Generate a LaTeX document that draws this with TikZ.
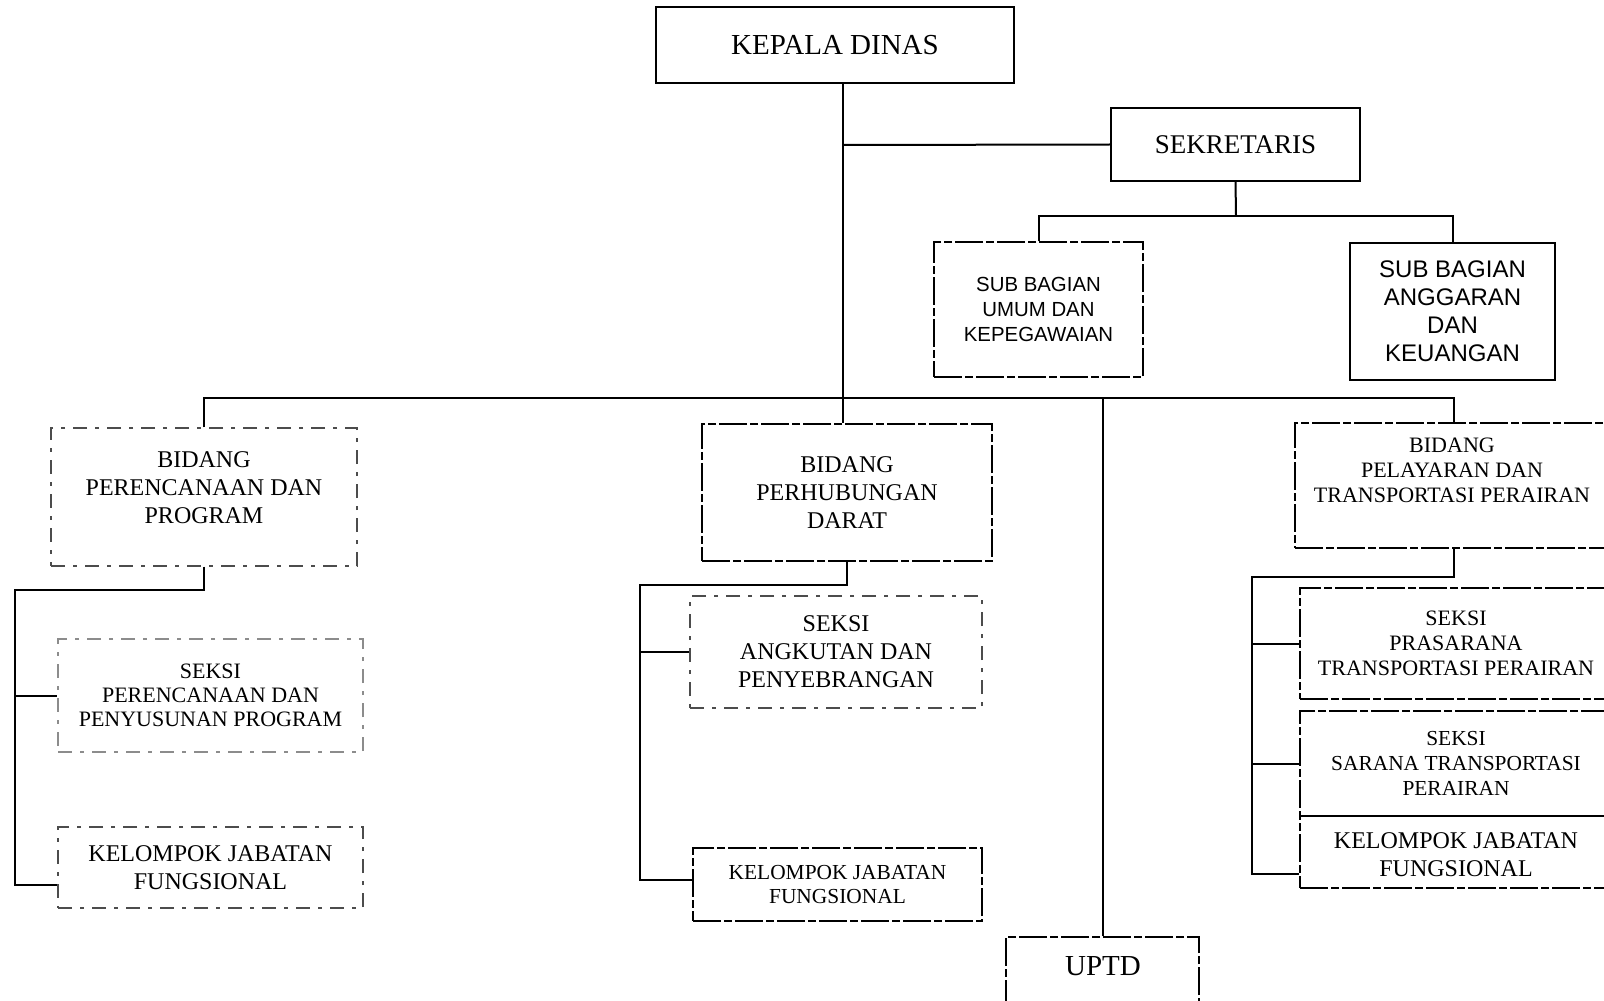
\documentclass[tikz,border=0pt]{standalone}
\usepackage{fontspec}
\setmainfont{Liberation Serif}
\newfontfamily\sansf{Liberation Sans}
\newcommand{\fs}[2]{\fontsize{#1}{#2}\selectfont}
\begin{document}
\begin{tikzpicture}[x=0.5pt,y=-0.5pt,
  solidbox/.style={draw, line width=0.8pt, inner sep=0pt, align=center},
  brokenbox/.style={draw, line width=0.7pt, inner sep=0pt, align=center, dash pattern=on 14pt off 1.5pt on 4pt off 1.5pt},
  faintbox/.style={draw=black!70, line width=0.6pt, inner sep=0pt, align=center, dash pattern=on 7pt off 4pt on 2pt off 4pt},
  lbl/.style={inner sep=0pt, align=center},
  conn/.style={line width=1pt}]
\useasboundingbox (0,0) rectangle (1604,1000);
\fill[white] (0,0) rectangle (1604,1000);

% top level
\node[solidbox, minimum width=179pt, minimum height=38pt, font=\fs{14.5}{17}] (kd) at (835,45) {KEPALA DINAS};
\node[solidbox, minimum width=124.5pt, minimum height=36.5pt, font=\fs{13.5}{16}] (sek) at (1235.5,144.5) {SEKRETARIS};
\node[brokenbox, minimum width=104.5pt, minimum height=67.5pt, font=\sansf\fs{10.2}{12.5}] (sbu) at (1038.5,309.5) {SUB BAGIAN\\UMUM DAN\\KEPEGAWAIAN};
\node[solidbox, minimum width=102.5pt, minimum height=68.5pt, font=\sansf\fs{12}{14}] (sba) at (1452.5,311.5) {SUB BAGIAN\\ANGGARAN\\DAN\\KEUANGAN};

% bidang
\node[faintbox, minimum width=153pt, minimum height=69pt] (bpp) at (204,497) {};
\node[lbl, font=\fs{12}{14}] (bppt) at (204,487.5) {BIDANG\\PERENCANAAN DAN\\PROGRAM};
\node[brokenbox, minimum width=145pt, minimum height=68.5pt, font=\fs{12}{14}] (bpd) at (847,492.5) {BIDANG\\PERHUBUNGAN\\DARAT};
\node[brokenbox, minimum width=158.5pt, minimum height=62.5pt] (bpl) at (1453.5,485.5) {};
\node[lbl, font=\fs{11}{12.5}] (bplt) at (1452,470.6) {BIDANG\\PELAYARAN DAN\\TRANSPORTASI PERAIRAN};

% seksi left
\node[faintbox, draw=black!45, minimum width=152.5pt, minimum height=56.5pt, font=\fs{11}{12}] (spp) at (210.5,695.5) {SEKSI\\PERENCANAAN DAN\\PENYUSUNAN PROGRAM};
\node[faintbox, minimum width=152.5pt, minimum height=40.5pt, font=\fs{12}{14.3}] (kjf1) at (210.5,867.5) {KELOMPOK JABATAN\\FUNGSIONAL};

% seksi middle
\node[faintbox, minimum width=146pt, minimum height=56pt, font=\fs{12}{14}] (sak) at (836,652) {SEKSI\\ANGKUTAN DAN\\PENYEBRANGAN};
\node[brokenbox, minimum width=144.5pt, minimum height=36.5pt, font=\fs{10.7}{12.3}] (kjf2) at (837.5,884.5) {KELOMPOK JABATAN\\FUNGSIONAL};

% seksi right
\node[brokenbox, minimum width=156pt, minimum height=55.5pt, font=\fs{11}{12.5}] (spr) at (1456,643.5) {SEKSI\\PRASARANA\\TRANSPORTASI PERAIRAN};
\node[brokenbox, minimum width=156pt, minimum height=52.5pt, font=\fs{10.7}{12.3}] (ssr) at (1456,763.5) {SEKSI\\SARANA TRANSPORTASI\\PERAIRAN};
\node[brokenbox, minimum width=156pt, minimum height=36pt] (kjf3) at (1456,852) {};
\node[lbl, font=\fs{12}{14}] (kjf3t) at (1456,855) {KELOMPOK JABATAN\\FUNGSIONAL};

% UPTD
\node[brokenbox, minimum width=96.5pt, minimum height=37.5pt] (uptd) at (1102.5,974.5) {};
\node[lbl, font=\fs{14.5}{17}] (uptdt) at (1103,966) {UPTD};

% connectors
\coordinate (sj) at (843,145);
\coordinate (trunk) at (843,398);
\coordinate (sbus) at (1236,216);
\draw[conn] (kd.south -| trunk) -- (bpd.north -| trunk);
\draw[conn] (sj) -- (sek.west);
\draw[conn] (sek.south) -- (sbus);
\draw[conn] (sbu.north) |- (sbus) -| (sba.north);
\draw[conn] (bpp.north) |- (trunk) -| (bpl.north);
\draw[conn] (uptd.north) -- (uptd.north |- trunk);

% left branch
\coordinate (l1) at (15,590);
\coordinate (l2) at (15,885);
\draw[conn] (bpp.south) |- (l1) -- (l2) -- (l2 -| kjf1.west);
\draw[conn] (l1 |- spp.west) -- (spp.west);

% middle branch
\coordinate (m1) at (640,585);
\coordinate (m2) at (640,880);
\draw[conn] (bpd.south) |- (m1) -- (m2) -- (m2 -| kjf2.west);
\draw[conn] (m1 |- sak.west) -- (sak.west);

% right branch
\coordinate (r1) at (1252,577);
\coordinate (r2) at (1252,874);
\draw[conn] (bpl.south) |- (r1) -- (r2) -- (r2 -| kjf3.west);
\draw[conn] (r1 |- spr.west) -- (spr.west);
\draw[conn] (r1 |- ssr.west) -- (ssr.west);
\end{tikzpicture}
\end{document}
